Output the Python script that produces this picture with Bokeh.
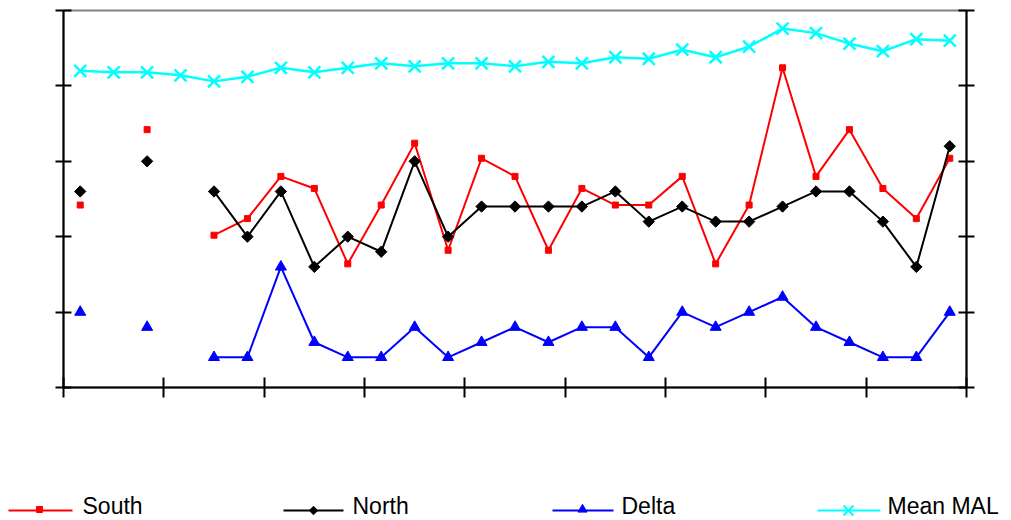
import math
from bokeh.plotting import figure
from bokeh.models import ColumnDataSource, LinearAxis, FixedTicker, Range1d, CustomJSTickFormatter
from bokeh.core.properties import value
from bokeh.embed import file_html
from bokeh.resources import INLINE

nan = float("nan")

# 27 sampling periods, no tick labels shown on the category axis
periods = list(range(1, 28))

south = [12.1, nan, 17.1, nan, 10.1, 11.2, 14.0, 13.2, 8.2, 12.1, 16.2, 9.1, 15.2, 14.0,
         9.1, 13.2, 12.1, 12.1, 14.0, 8.2, 12.1, 21.2, 14.0, 17.1, 13.2, 11.2, 15.2]
north = [13, nan, 15, nan, 13, 10, 13, 8, 10, 9, 15, 10, 12, 12,
         12, 12, 13, 11, 12, 11, 11, 12, 13, 13, 11, 8, 16]
delta = [5, nan, 4, nan, 2, 2, 8, 3, 2, 2, 4, 2, 3, 4,
         3, 4, 4, 2, 5, 4, 5, 6, 4, 3, 2, 2, 5]
mean_mal = [21.0, 20.9, 20.9, 20.7, 20.3, 20.6, 21.2, 20.9, 21.2, 21.5, 21.3, 21.5, 21.5, 21.3,
            21.6, 21.5, 21.9, 21.8, 22.4, 21.9, 22.6, 23.8, 23.5, 22.8, 22.3, 23.1, 23.0]

y_ticks = [0, 5, 10, 15, 20, 25]
x_ticks = [0, 3, 6, 9, 12, 15, 18, 21, 24, 27]

xs = [p - 0.5 for p in periods]
src = ColumnDataSource(dict(x=xs, south=south, north=north, delta=delta, mean=mean_mal))

blank = CustomJSTickFormatter(code="return ''")

p = figure(width=1011, height=400, frame_width=903, frame_height=377,
           x_range=Range1d(0, len(periods)), y_range=Range1d(y_ticks[0], y_ticks[-1]),
           output_backend="svg", toolbar_location=None,
           min_border_left=63, min_border_right=45, min_border_top=10, min_border_bottom=13,
           x_axis_location=None, y_axis_location=None)
p.xgrid.visible = False
p.ygrid.visible = False
p.outline_line_color = "#808080"
p.outline_line_width = 2
p.background_fill_color = "white"
p.border_fill_color = "white"


def style_axis(ax, ticks):
    ax.ticker = FixedTicker(ticks=ticks, minor_ticks=[])
    ax.formatter = blank
    ax.axis_line_color = "black"
    ax.axis_line_width = 2
    ax.major_tick_line_color = "black"
    ax.major_tick_line_width = 2
    ax.major_tick_in = 8
    ax.major_tick_out = 8
    ax.minor_tick_line_color = None
    ax.major_label_standoff = 0
    ax.major_label_text_font_size = "1px"


for loc in ("left", "right"):
    ax = LinearAxis()
    style_axis(ax, y_ticks)
    p.add_layout(ax, loc)

bx = LinearAxis()
style_axis(bx, x_ticks)
bx.major_tick_in = 10
bx.major_tick_out = 10
p.add_layout(bx, "below")

# Series lines and markers
p.line("x", "south", source=src, line_color="#FF0000", line_width=2)
p.scatter("x", "south", source=src, marker="square", size=6, fill_color="#FF0000", line_color="#FF0000")

p.line("x", "north", source=src, line_color="black", line_width=2)
p.scatter("x", "north", source=src, marker="square", angle=math.pi / 4, size=8,
          fill_color="black", line_color="black")

p.line("x", "delta", source=src, line_color="#0000FF", line_width=2)
p.scatter("x", "delta", source=src, marker="triangle", size=11, fill_color="#0000FF", line_color="#0000FF")

p.line("x", "mean", source=src, line_color="#00FFFF", line_width=2.5)
p.scatter("x", "mean", source=src, marker="x", size=17, line_color="#00FFFF", line_width=2.5)

# Legend strip drawn in pixel units underneath the chart (separate root, no frame alignment)
lg = figure(width=1011, height=120, x_range=Range1d(0, 1011), y_range=Range1d(120, 0),
            output_backend="svg", toolbar_location=None,
            min_border=0, x_axis_location=None, y_axis_location=None)
lg.xgrid.visible = False
lg.ygrid.visible = False
lg.outline_line_color = None
lg.background_fill_color = "white"
lg.border_fill_color = "white"

names = ["South", "North", "Delta", "Mean MAL"]
colors = ["#FF0000", "black", "#0000FF", "#00FFFF"]
line_x0 = [8, 283, 552, 817]
line_x1 = [72, 343, 613, 880]
mark_x = [39, 313, 582, 848]
text_x = [82, 352, 621, 887]
ly = 110

lg.segment(x0=line_x0, y0=[ly] * 4, x1=line_x1, y1=[ly] * 4, line_color=colors, line_width=2)
lg.scatter(x=[mark_x[0]], y=[ly - 1], marker="square", size=6, fill_color=colors[0], line_color=colors[0])
lg.scatter(x=[mark_x[1]], y=[ly], marker="square", angle=math.pi / 4, size=6,
           fill_color=colors[1], line_color=colors[1])
lg.scatter(x=[mark_x[2]], y=[ly - 1], marker="triangle", size=9, fill_color=colors[2], line_color=colors[2])
lg.scatter(x=[mark_x[3]], y=[ly], marker="x", size=14, line_color=colors[3], line_width=2)
lg.text(x=text_x, y=[ly - 5] * 4, text=names, text_font=value("Liberation Sans"),
        text_font_size="23px", text_baseline="middle", text_align="left", text_color="black")

open("out.html", "w").write(file_html([p, lg], INLINE))
